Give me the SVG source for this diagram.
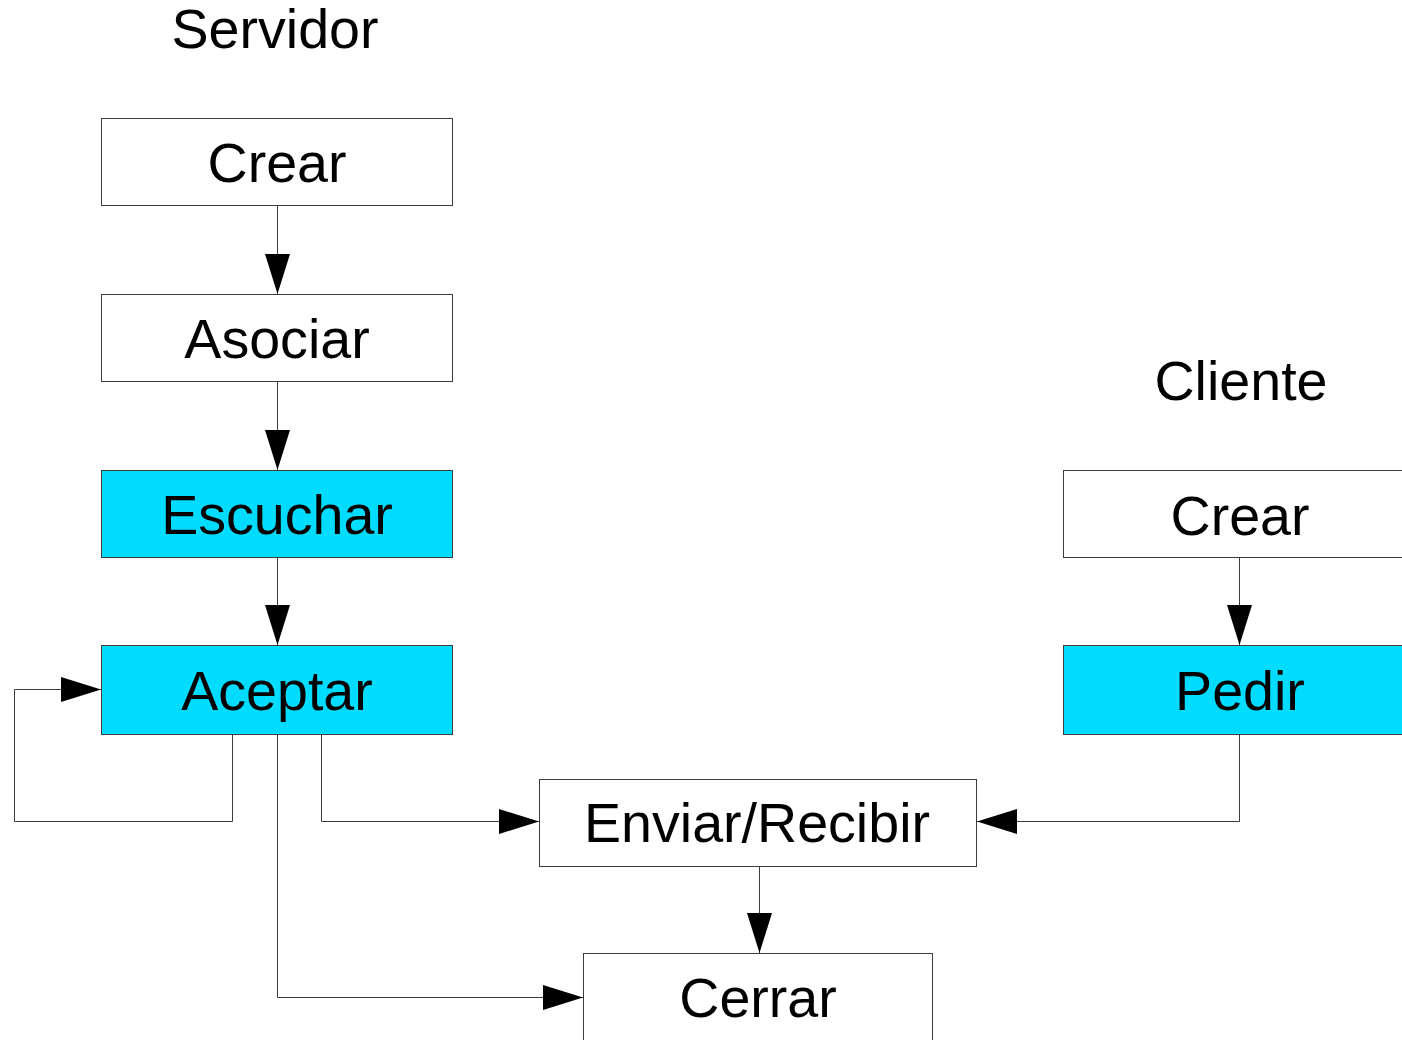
<svg xmlns="http://www.w3.org/2000/svg" width="1402" height="1040" viewBox="0 0 1402 1040">
  <style>
    .box { fill: #ffffff; stroke: #3c3c3c; stroke-width: 1; }
    .hi { fill: #00dcff; }
    .lbl { font-family: "Liberation Sans", Arial, sans-serif; font-size: 55.6px; fill: #000000; text-anchor: middle; }
    .title { font-family: "Liberation Sans", Arial, sans-serif; font-size: 55.6px; fill: #000000; text-anchor: middle; }
    .conn { fill: none; stroke: #3c3c3c; stroke-width: 1; marker-end: url(#arrow); }
  </style>
  <defs>
    <marker id="arrow" markerUnits="userSpaceOnUse" markerWidth="40" markerHeight="25" refX="40" refY="12.5" orient="auto" viewBox="0 0 40 25">
      <path d="M0,0 L40,12.5 L0,25 Z" fill="#000000"/>
    </marker>
  </defs>
  <rect x="0" y="0" width="1402" height="1040" fill="#ffffff"/>

  <g id="title-servidor">
    <text class="title" x="275" y="48">Servidor</text>
  </g>
  <g id="title-cliente">
    <text class="title" x="1241" y="400">Cliente</text>
  </g>

  <g id="connectors">
    <path class="conn" d="M277.5,205.5 L277.5,294"/>
    <path class="conn" d="M277.5,381.5 L277.5,470"/>
    <path class="conn" d="M277.5,557.5 L277.5,645"/>
    <path class="conn" d="M232.5,734.5 L232.5,821.5 L14.5,821.5 L14.5,689.5 L101,689.5"/>
    <path class="conn" d="M321.5,734.5 L321.5,821.5 L539,821.5"/>
    <path class="conn" d="M277.5,734.5 L277.5,997.5 L583,997.5"/>
    <path class="conn" d="M759.5,866.5 L759.5,953"/>
    <path class="conn" d="M1239.5,557.5 L1239.5,645"/>
    <path class="conn" d="M1239.5,734.5 L1239.5,821.5 L977,821.5"/>
  </g>

  <g id="srv-crear">
    <rect class="box" x="101.5" y="118.5" width="351" height="87"/>
    <text class="lbl" x="277" y="182">Crear</text>
  </g>
  <g id="srv-asociar">
    <rect class="box" x="101.5" y="294.5" width="351" height="87"/>
    <text class="lbl" x="277" y="357.5">Asociar</text>
  </g>
  <g id="srv-escuchar">
    <rect class="box hi" x="101.5" y="470.5" width="351" height="87"/>
    <text class="lbl" x="277" y="533.5">Escuchar</text>
  </g>
  <g id="srv-aceptar">
    <rect class="box hi" x="101.5" y="645.5" width="351" height="89"/>
    <text class="lbl" x="277" y="709.5">Aceptar</text>
  </g>
  <g id="cli-crear">
    <rect class="box" x="1063.5" y="470.5" width="352" height="87"/>
    <text class="lbl" x="1240" y="534.5">Crear</text>
  </g>
  <g id="cli-pedir">
    <rect class="box hi" x="1063.5" y="645.5" width="352" height="89"/>
    <text class="lbl" x="1240" y="709.5">Pedir</text>
  </g>
  <g id="enviar-recibir">
    <rect class="box" x="539.5" y="779.5" width="437" height="87"/>
    <text class="lbl" x="757" y="842">Enviar/Recibir</text>
  </g>
  <g id="cerrar">
    <rect class="box" x="583.5" y="953.5" width="349" height="100"/>
    <text class="lbl" x="758" y="1017">Cerrar</text>
  </g>
</svg>
